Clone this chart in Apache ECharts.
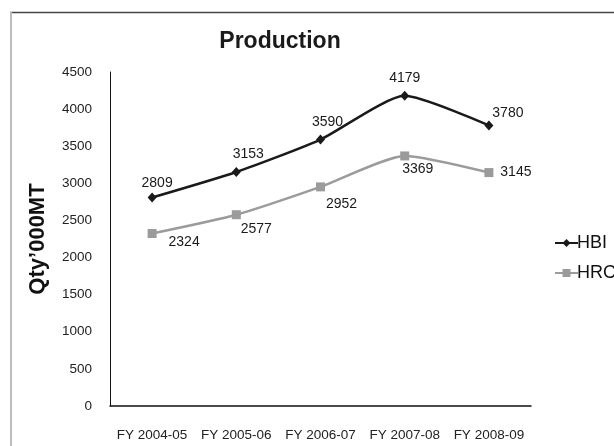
<!DOCTYPE html>
<html>
<head>
<meta charset="utf-8">
<script src="https://cdn.jsdelivr.net/npm/echarts@6/dist/echarts.min.js"></script>
<style>
  html, body { margin: 0; padding: 0; background: #fff; }
  #chart { width: 614px; height: 446px; }
</style>
</head>
<body>
<div id="chart"></div>
<script>
// Production volumes by financial year, in thousand metric tonnes
const years = ['FY 2004-05', 'FY 2005-06', 'FY 2006-07', 'FY 2007-08', 'FY 2008-09'];
const hbi = [2809, 3153, 3590, 4179, 3780];
const hrc = [2324, 2577, 2952, 3369, 3145];
const yTicks = [0, 500, 1000, 1500, 2000, 2500, 3000, 3500, 4000, 4500];

// Value-label placement (pixel offsets from each marker's centre)
const hbiLabelOffsets = [[5, -14], [12, -18], [7, -17], [0, -18], [19, -12]];
const hrcLabelOffsets = [[32, 9], [20, 14], [21, 17], [13, 13], [27, 0]];

const FONT = '"Liberation Sans", Arial, sans-serif';

function withLabels(values, offsets) {
  return values.map((v, i) => ({
    value: v,
    label: { show: true, position: 'inside', offset: offsets[i] }
  }));
}

const chart = echarts.init(document.getElementById('chart'), null, { renderer: 'canvas' });

chart.setOption({
  backgroundColor: '#ffffff',
  animation: false,
  textStyle: { fontFamily: FONT },
  title: {
    text: 'Production',
    left: 275,
    top: 25,
    textAlign: 'center',
    textStyle: { fontFamily: FONT, fontSize: 23, fontWeight: 'bold', color: '#1a1a1a' }
  },
  grid: { left: 110, right: 83, top: 72, bottom: 40, containLabel: false },
  legend: {
    orient: 'vertical',
    left: 549,
    top: 229,
    itemGap: 12,
    itemWidth: 23,
    itemHeight: 10,
    textStyle: { fontFamily: FONT, fontSize: 18, color: '#111', padding: [0, 0, 0, -6] },
    data: ['HBI', 'HRC']
  },
  xAxis: {
    type: 'category',
    data: years,
    boundaryGap: true,
    axisLine: { lineStyle: { color: '#111', width: 1.5 } },
    axisTick: { show: false },
    axisLabel: { color: '#222', fontSize: 13.5, fontFamily: FONT, margin: 22, interval: 0 },
    splitLine: { show: false }
  },
  yAxis: {
    type: 'value',
    min: yTicks[0],
    max: yTicks[yTicks.length - 1],
    interval: yTicks[1] - yTicks[0],
    name: 'Qty\u2019000MT',
    nameLocation: 'middle',
    nameGap: 61,
    nameRotate: 90,
    nameTextStyle: { fontFamily: FONT, fontSize: 22, fontWeight: 'bold', color: '#111' },
    axisLine: { show: true, lineStyle: { color: '#111', width: 1 } },
    axisTick: { show: false },
    axisLabel: {
      color: '#222', fontSize: 13.5, fontFamily: FONT, margin: 18,
      formatter: (v) => String(v)
    },
    splitLine: { show: false }
  },
  series: [
    {
      name: 'HBI',
      type: 'line',
      data: withLabels(hbi, hbiLabelOffsets),
      smooth: 0.2,
      symbol: 'diamond',
      symbolSize: [9, 10],
      itemStyle: { color: '#1a1a1a' },
      lineStyle: { color: '#1a1a1a', width: 2.5 },
      label: { color: '#1a1a1a', fontSize: 14, fontFamily: FONT }
    },
    {
      name: 'HRC',
      type: 'line',
      data: withLabels(hrc, hrcLabelOffsets),
      smooth: 0.2,
      symbol: 'rect',
      symbolSize: 9,
      itemStyle: { color: '#9b9b9d' },
      lineStyle: { color: '#9b9b9d', width: 2.5 },
      label: { color: '#1a1a1a', fontSize: 14, fontFamily: FONT }
    }
  ],
  graphic: [
    // chart-area frame: dark top edge, light left edge
    {
      type: 'line',
      shape: { x1: 10, y1: 12.5, x2: 614, y2: 12.5 },
      style: { stroke: '#444', lineWidth: 1.5 },
      silent: true
    },
    {
      type: 'line',
      shape: { x1: 11, y1: 12, x2: 11, y2: 446 },
      style: { stroke: '#bdbdbd', lineWidth: 2 },
      silent: true
    }
  ]
});
</script>
</body>
</html>
